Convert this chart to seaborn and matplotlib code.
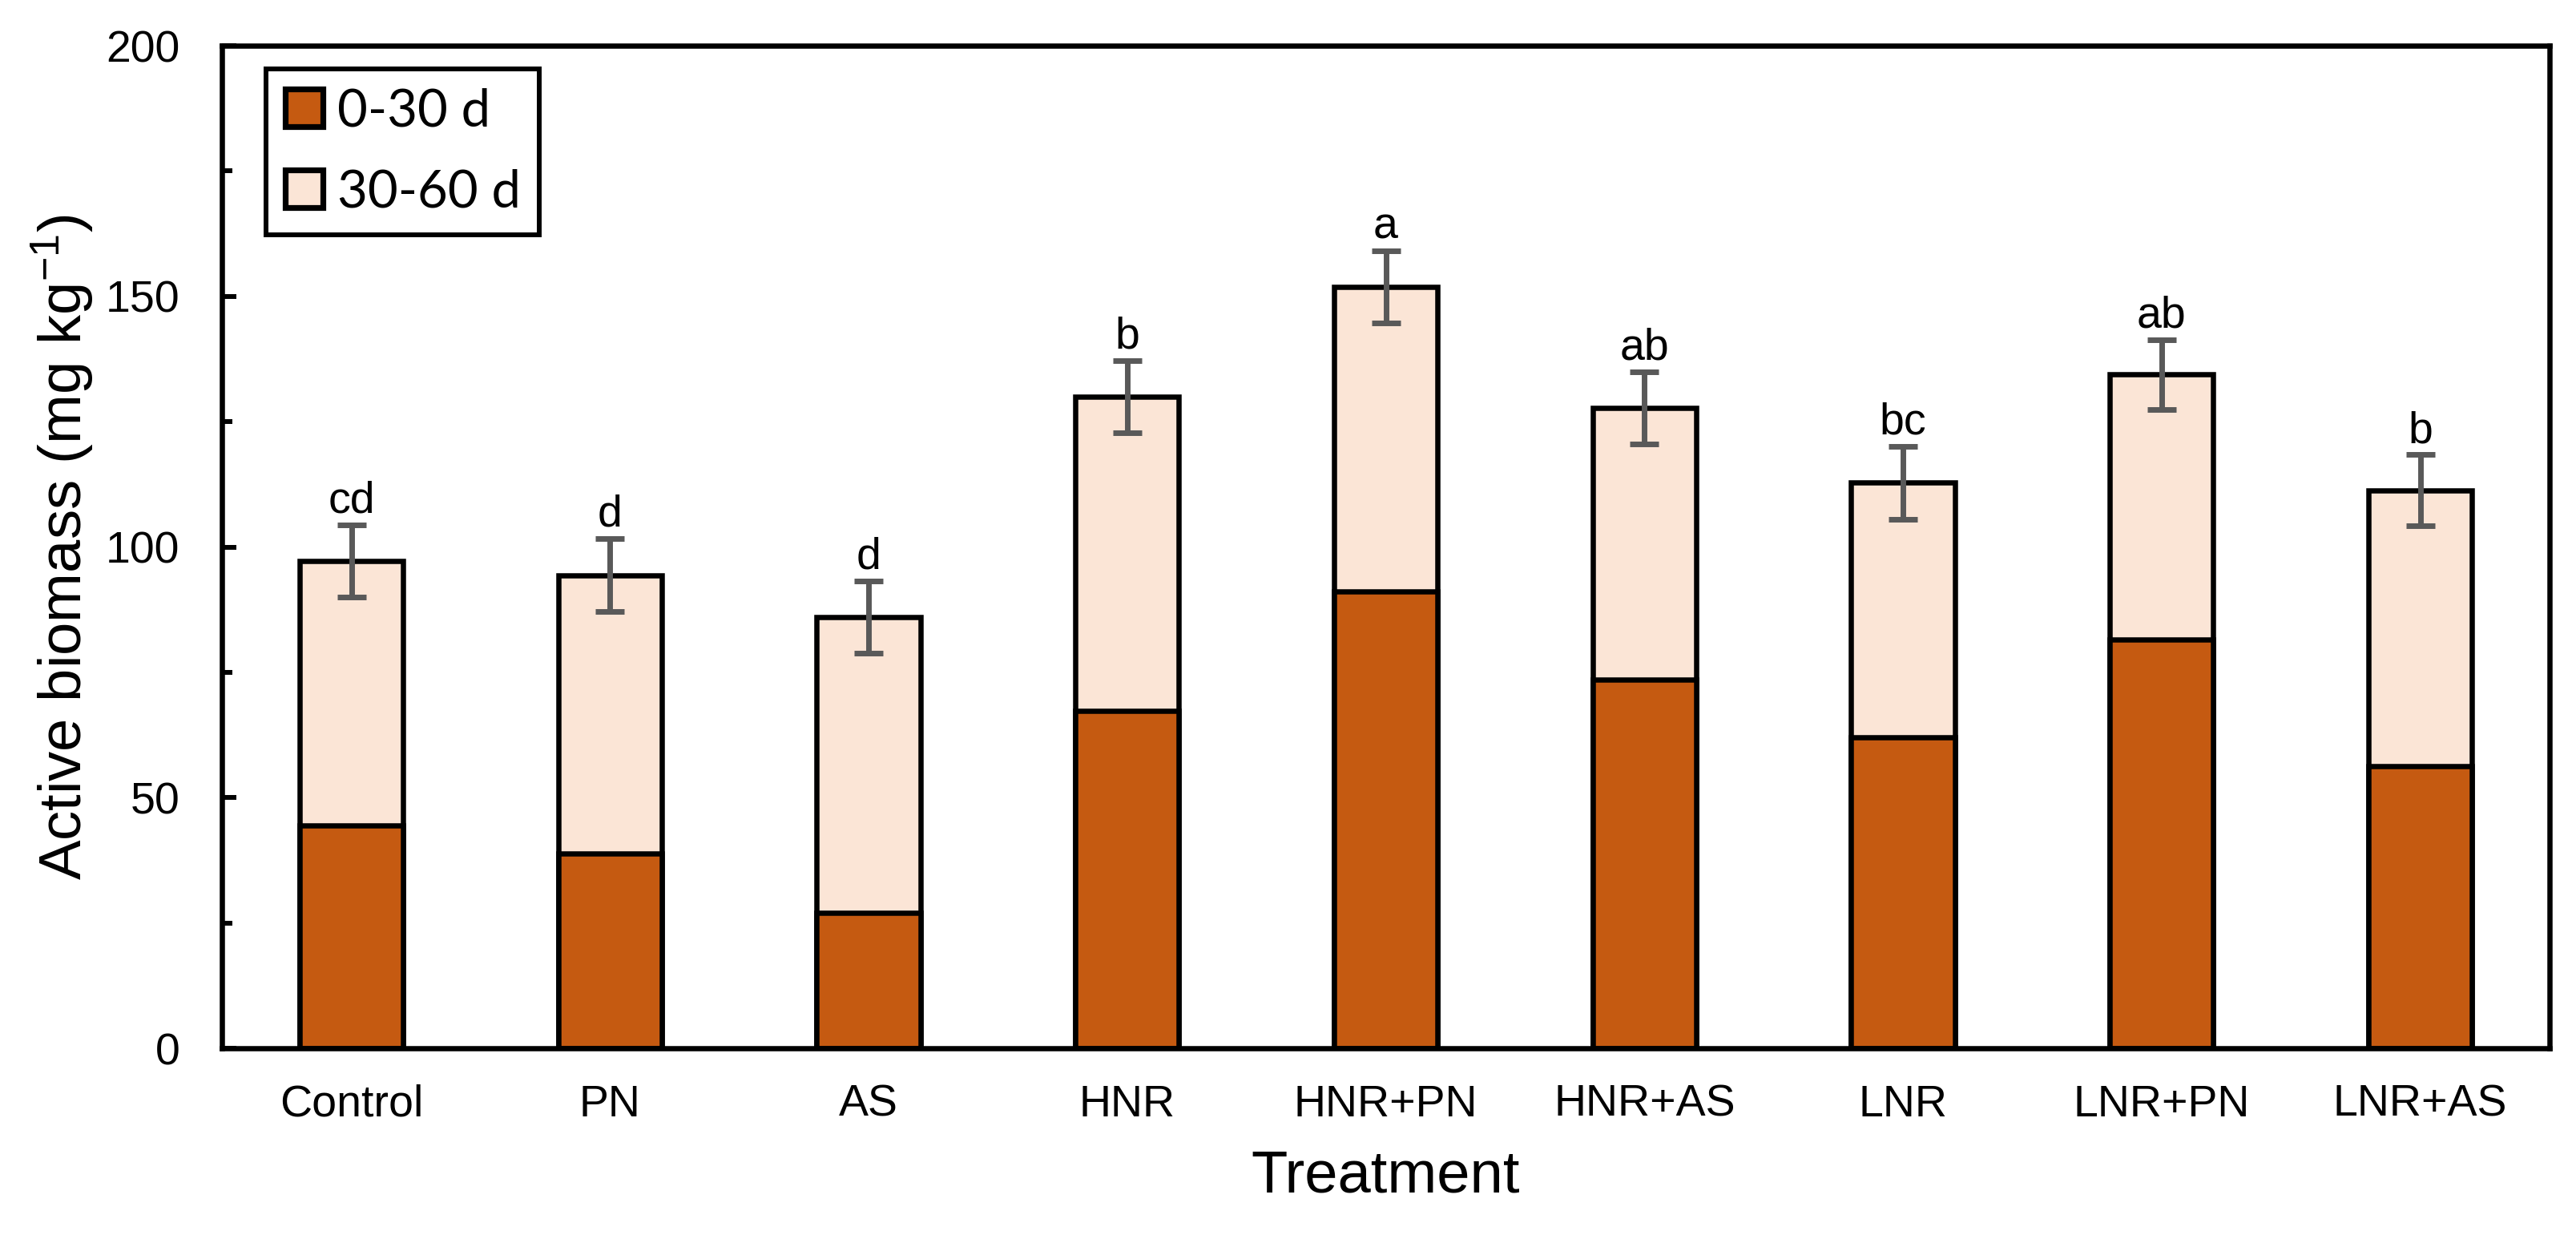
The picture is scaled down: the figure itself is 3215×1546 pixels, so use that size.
import matplotlib
matplotlib.use("Agg")
import matplotlib.pyplot as plt
import seaborn as sns
from matplotlib.ticker import MultipleLocator

treatments = ["Control", "PN", "AS", "HNR", "HNR+PN", "HNR+AS", "LNR", "LNR+PN", "LNR+AS"]
early = [44.5, 38.9, 27.0, 67.3, 91.1, 73.5, 62.1, 81.5, 56.3]   # 0-30 d
late = [52.7, 55.5, 59.0, 62.7, 60.8, 54.2, 50.7, 52.9, 55.0]    # 30-60 d
errors = [7.2, 7.3, 7.2, 7.2, 7.2, 7.2, 7.3, 7.0, 7.1]
letters = ["cd", "d", "d", "b", "a", "ab", "bc", "ab", "b"]

total = [a + b for a, b in zip(early, late)]

sns.set_theme(style="white")
plt.rcParams['font.family'] = ['Liberation Sans', 'DejaVu Sans']
plt.rcParams['mathtext.default'] = 'regular'
plt.rcParams['text.color'] = 'black'
plt.rcParams['axes.labelcolor'] = 'black'
plt.rcParams['xtick.color'] = 'black'
plt.rcParams['ytick.color'] = 'black'

fig, ax = plt.subplots(figsize=(32.15, 15.46), dpi=100)
fig.subplots_adjust(left=0.0862, right=0.9897, bottom=0.1539, top=0.9631)

# light top segment drawn as the full stack, dark part on top of it
sns.barplot(x=treatments, y=total, color="#FBE5D6", edgecolor="black", linewidth=4.7,
            width=0.4, saturation=1, errorbar=None, label="30-60 d", ax=ax)
sns.barplot(x=treatments, y=early, color="#C55A11", edgecolor="black", linewidth=4.7,
            width=0.4, saturation=1, errorbar=None, label="0-30 d", ax=ax)

ax.errorbar(range(len(treatments)), total, yerr=errors, fmt='none', ecolor='#595959',
            elinewidth=5, capsize=13, capthick=5, zorder=5)

for i, (t, e, s) in enumerate(zip(total, errors, letters)):
    ax.annotate(s, (i, t + e), xytext=(0, 11), textcoords='offset points',
                ha='center', va='baseline', fontsize=40, color='black')

ax.set_xlim(-0.5, 8.5)
ax.set_ylim(0, 200)
ax.yaxis.set_major_locator(MultipleLocator(50))
ax.yaxis.set_minor_locator(MultipleLocator(25))
ax.tick_params(axis='y', which='major', direction='in', length=13, width=4.3,
               labelsize=40, pad=38, left=True)
ax.tick_params(axis='y', which='minor', direction='in', length=9.5, width=4.3, left=True)
ax.tick_params(axis='x', length=0, labelsize=40, pad=32)
for sp in ax.spines.values():
    sp.set_visible(True)
    sp.set_color('black')
    sp.set_linewidth(4.7)

ax.set_xlabel("Treatment", fontsize=53.5, labelpad=21)
ax.set_ylabel("Active biomass (mg kg$^{-1}$)", fontsize=53.5, labelpad=9)

handles, labels = ax.get_legend_handles_labels()
leg = ax.legend(handles[::-1], labels[::-1], loc='upper left', bbox_to_anchor=(0.0189, 0.9768),
                borderaxespad=0, prop={'family': 'Lato', 'size': 47}, frameon=True,
                fancybox=False, edgecolor='black', framealpha=1, handlelength=0.72,
                handleheight=0.72, handletextpad=0.28, labelspacing=0.64, borderpad=0.36)
leg.get_frame().set_linewidth(4.3)
for h in leg.legend_handles:
    h.set_linewidth(5.2)

plt.savefig("out.png", dpi=100)
